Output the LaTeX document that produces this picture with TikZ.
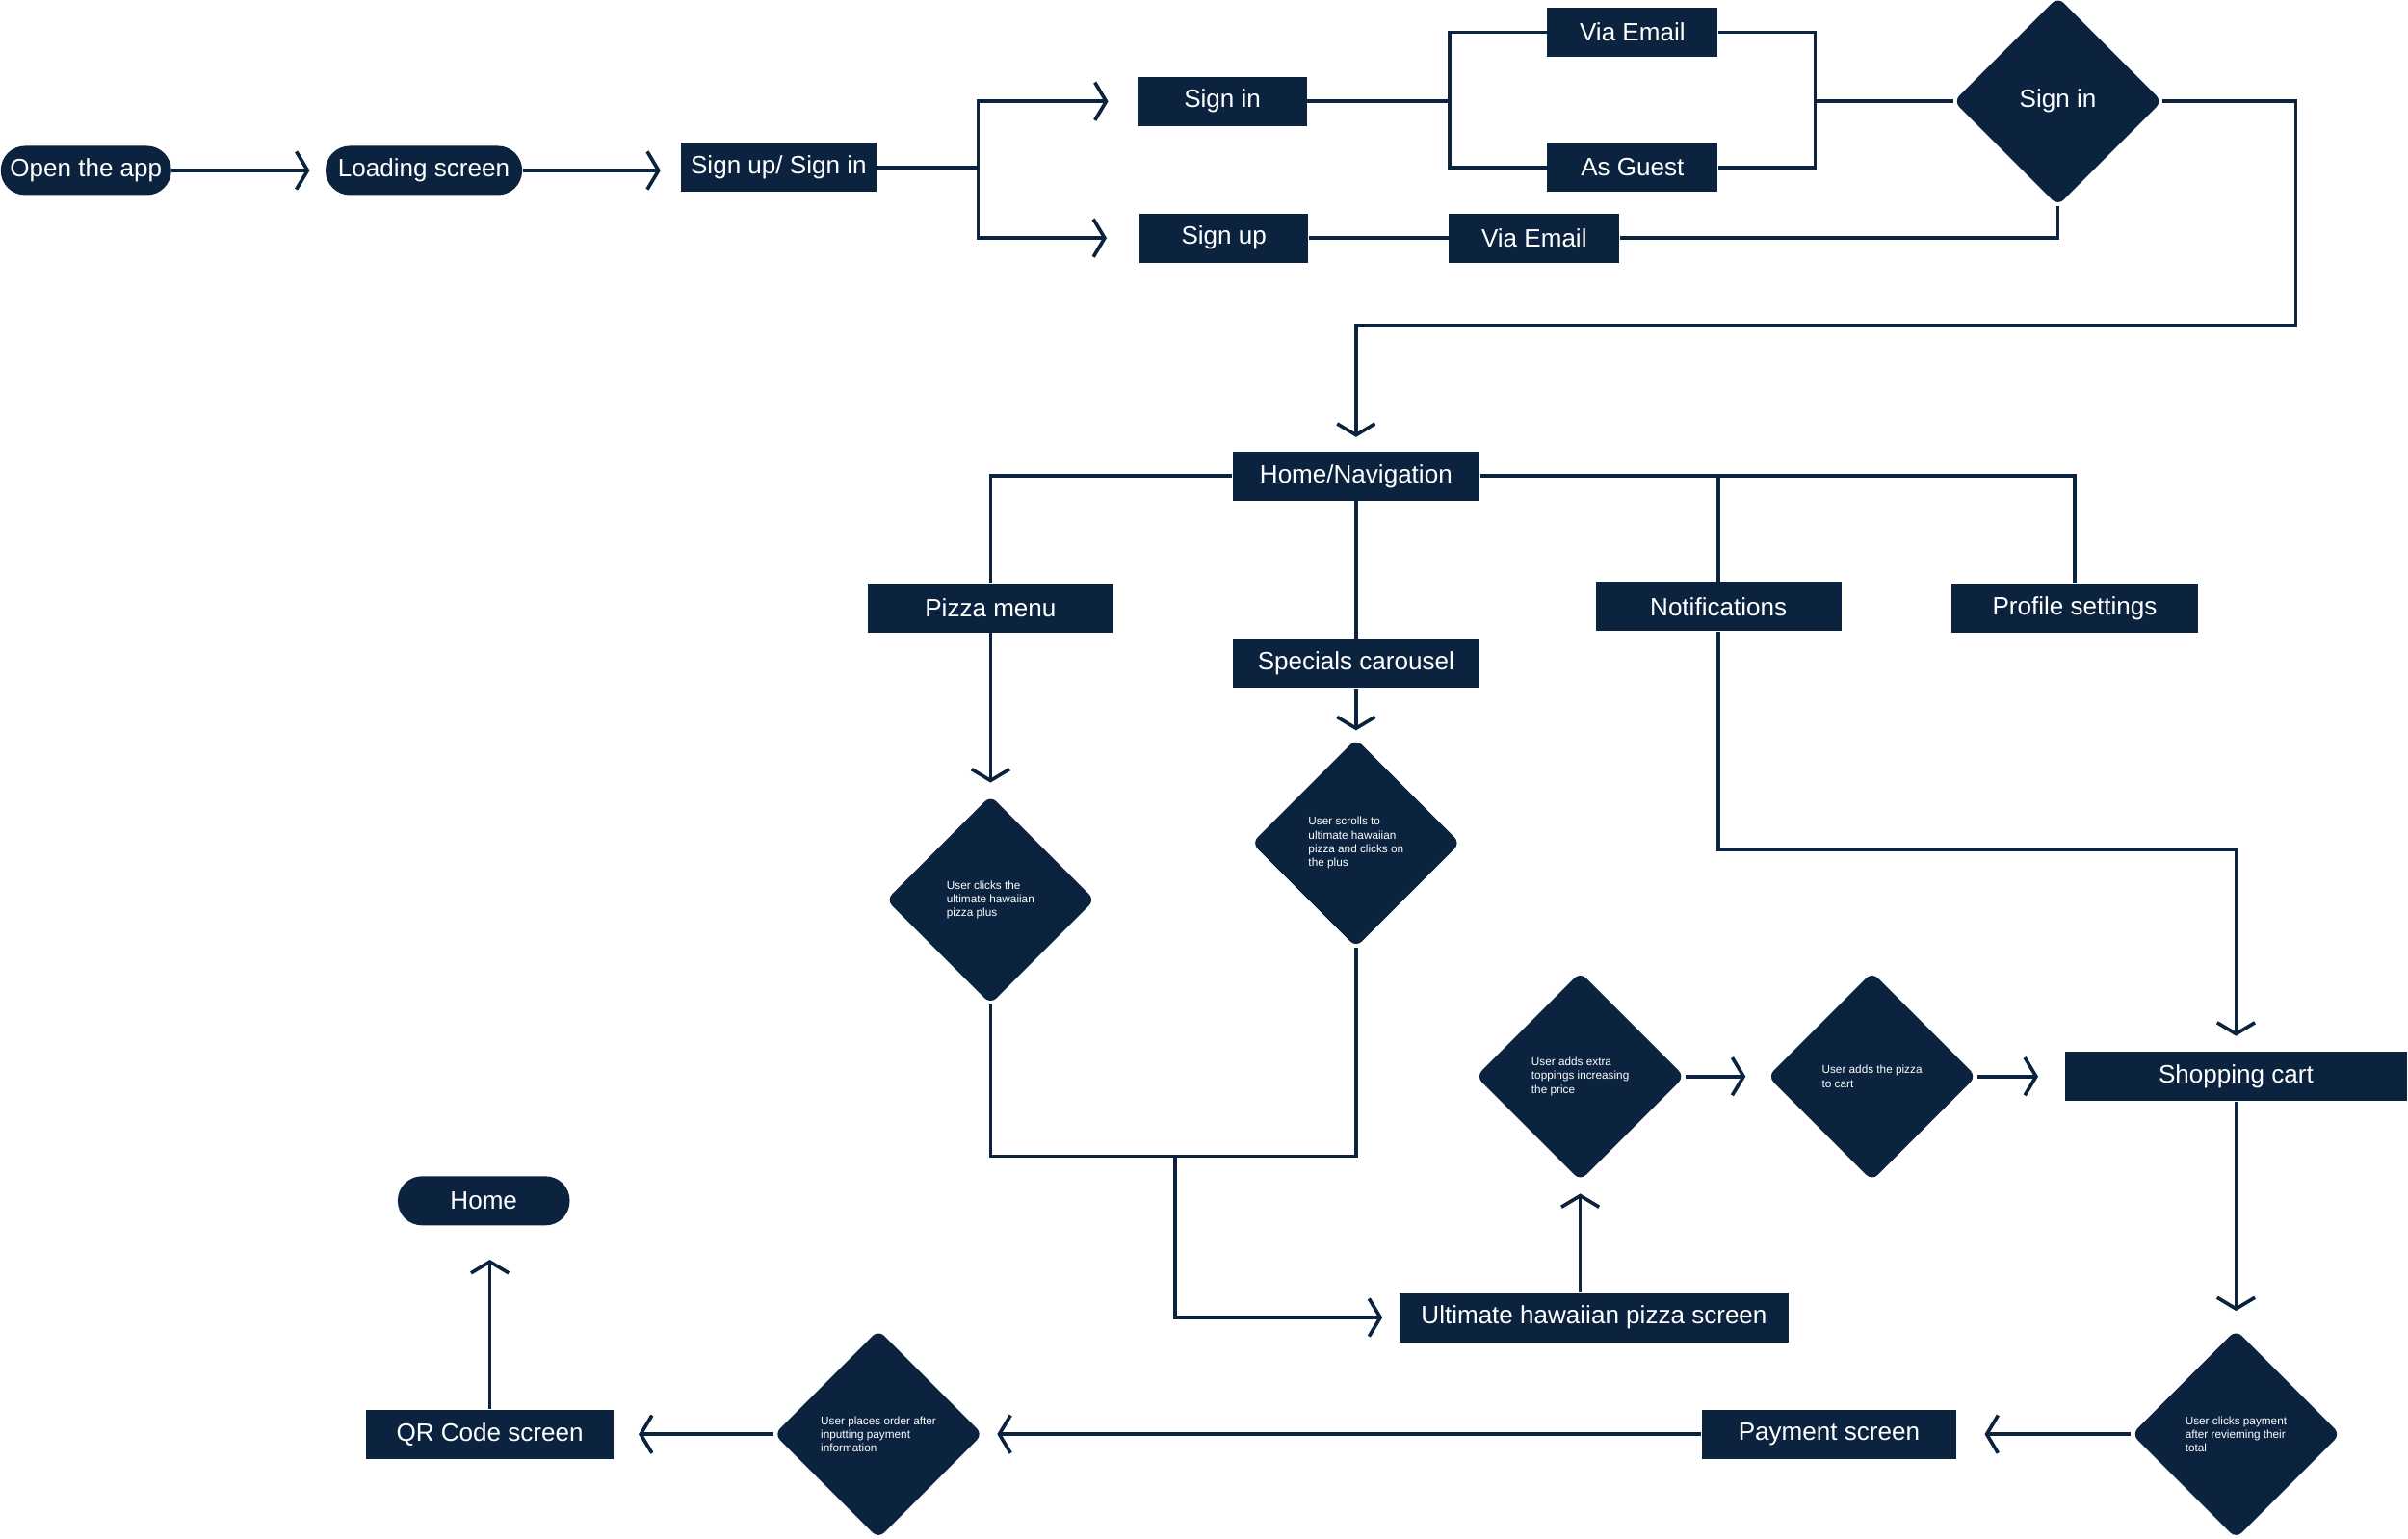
\documentclass[tikz,border=0pt]{standalone}
\usepackage{fontspec}
\setmainfont{Liberation Sans}
\usetikzlibrary{shapes.geometric, arrows.meta, positioning, calc}

\begin{document}
\begin{tikzpicture}[x=0.02cm, y=-0.02cm,
  caixa/.style={fill=navy, text=white, minimum height=0.64cm, inner sep=2pt, font=\fontsize{9.3}{11}\selectfont},
  pilula/.style={caixa, rounded corners=9pt},
  decisao/.style={diamond, aspect=1, fill=navy, text=white, minimum width=2.72cm, minimum height=2.72cm, inner sep=0pt, rounded corners=3pt, font=\fontsize{4.2}{5.1}\selectfont, align=left},
  linha/.style={draw=navy, line width=1.3pt},
  seta/.style={linha, -{Straight Barb[length=4.2pt, width=14pt]}}
]
% --- FLUXO DO APP DE PIZZA ---
\definecolor{navy}{HTML}{0B233E}
\useasboundingbox (0,0) rectangle (1568,1002);

% LAYER 1: Entrada e login
\node[pilula, minimum width=2.22cm] (open) at (56,111) {Open the app};
\node[pilula, minimum width=2.56cm] (load) at (276,111) {Loading screen};
\node[caixa, minimum width=2.54cm] (sui) at (507,109) {Sign up/ Sign in};
\node[caixa, minimum width=2.2cm] (signin) at (796,66) {Sign in};
\node[caixa, minimum width=2.2cm] (signup) at (797,155) {Sign up};
\node[caixa, minimum width=2.22cm] (email1) at (1063,21) {Via Email};
\node[caixa, minimum width=2.22cm] (guest) at (1063,109) {As Guest};
\node[caixa, minimum width=2.22cm] (email2) at (999,155) {Via Email};
\node[decisao, font=\fontsize{9.3}{11}\selectfont] (login) at (1340,66) {Sign in};
\coordinate (br1) at (637,109);
\coordinate (br2) at (944,66);
\coordinate (jn1) at (1182,66);
\coordinate (turn) at (1495,212);

\draw[seta, shorten >=0.2cm] (open) -- (load);
\draw[seta, shorten >=0.26cm] (load) -- (load -| sui.west);
\draw[linha] (sui.east) -- (br1);
\draw[seta, shorten >=0.38cm] (br1) |- (signin.west);
\draw[seta, shorten >=0.42cm] (br1) |- (signup.west);
\draw[linha] (signin) -- (br2) |- (email1);
\draw[linha] (br2) |- (guest);
\draw[linha] (email1) -| (jn1) |- (guest);
\draw[linha] (jn1) -- (login);
\draw[linha] (signup) -- (email2);
\draw[linha] (email2) -| (login.south);

% LAYER 2: Home e menus
\node[caixa, minimum width=3.22cm] (home) at (883,310) {Home/Navigation};
\node[caixa, minimum width=3.2cm] (pizza) at (645,396) {Pizza menu};
\node[caixa, minimum width=3.22cm] (spec) at (883,432) {Specials carousel};
\node[caixa, minimum width=3.2cm] (notif) at (1119,395) {Notifications};
\node[caixa, minimum width=3.22cm] (prof) at (1351,396) {Profile settings};

\draw[seta, shorten >=0.18cm] (login.east) -| (turn) -| (home.north);
\draw[linha] (home.west) -| (pizza.north);
\draw[linha] (home) -- (spec);
\draw[linha] (home.east) -| (prof.north);
\draw[linha] (notif.north) -- (notif.north |- home.east);

% LAYER 3: Escolha da pizza
\node[decisao] (d1) at (645,586) {User clicks the\\ultimate hawaiian\\pizza plus};
\node[decisao] (d2) at (883,549) {User scrolls to\\ultimate hawaiian\\pizza and clicks on\\the plus};
\node[caixa, minimum width=5.06cm] (ult) at (1038,858) {Ultimate hawaiian pizza screen};
\node[decisao] (d3) at (1029,701) {User adds extra\\toppings increasing\\the price};
\node[decisao] (d4) at (1219,701) {User adds the pizza\\to cart};
\node[caixa, minimum width=4.46cm] (cart) at (1456,701) {Shopping cart};
\coordinate (mrg) at (765,753);
\coordinate (tocart) at (cart.north |- 0,553);

\draw[seta, shorten >=0.16cm] (pizza) -- (d1);
\draw[seta, shorten >=0.1cm] (spec) -- (d2);
\draw[linha] (d1.south) |- (mrg) -| (d2.south);
\draw[seta, shorten >=0.22cm] (mrg) |- (ult.west);
\draw[seta, shorten >=0.16cm] (ult.north -| d3) -- (d3.south);
\draw[seta, shorten >=0.28cm] (d3) -- (d4);
\draw[seta, shorten >=0.34cm] (d4) -- (cart);
\draw[seta, shorten >=0.2cm] (notif.south) |- (tocart) -- (cart.north);

% LAYER 4: Pagamento
\node[decisao] (d5) at (1456,934) {User clicks payment\\after revieming their\\total};
\node[caixa, minimum width=3.32cm] (pay) at (1191,934) {Payment screen};
\node[decisao] (d6) at (572,934) {User places order after\\inputting payment\\information};
\node[caixa, minimum width=3.22cm] (qr) at (319,934) {QR Code screen};
\node[pilula, minimum width=2.24cm] (fim) at (315,782) {Home};

\draw[seta, shorten >=0.24cm] (cart) -- (d5);
\draw[seta, shorten >=0.36cm] (d5) -- (pay);
\draw[seta, shorten >=0.18cm] (pay) -- (d6);
\draw[seta, shorten >=0.32cm] (d6) -- (qr);
\draw[seta, shorten >=0.44cm] (qr.north) -- (qr.north |- fim.south);
\end{tikzpicture}
\end{document}
